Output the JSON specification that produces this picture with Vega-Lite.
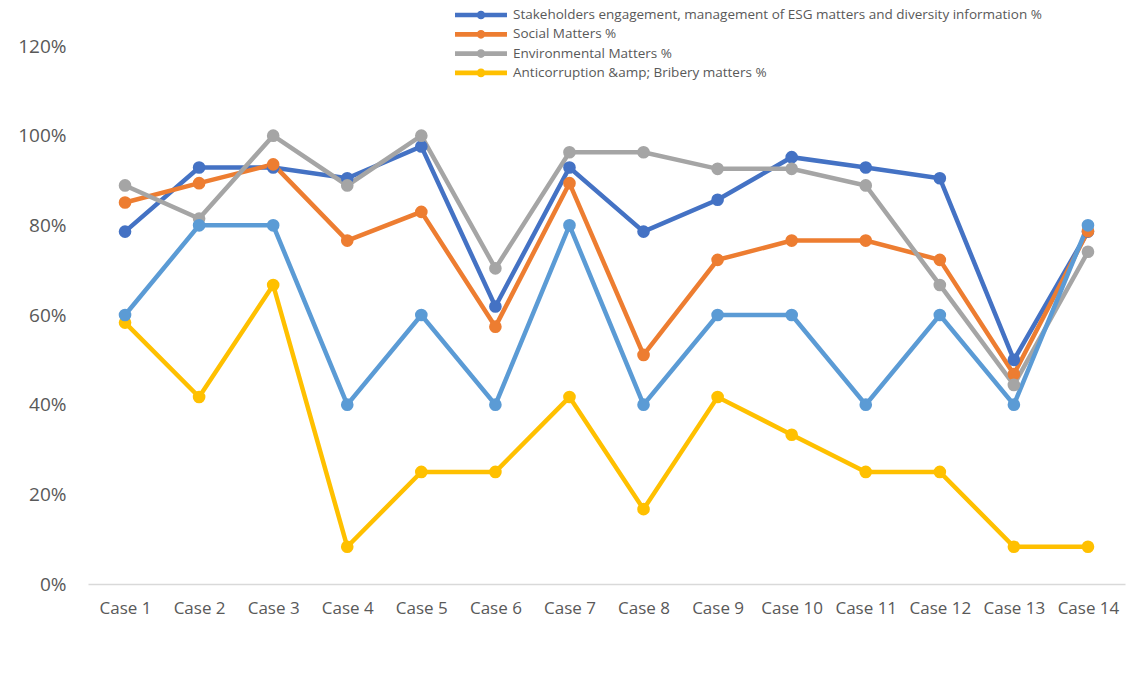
{
  "$schema": "https://vega.github.io/schema/vega-lite/v6.json",
  "autosize": "none",
  "width": 1037,
  "height": 538,
  "padding": {"left": 88, "top": 46, "right": 4, "bottom": 108},
  "background": "white",
  "config": {
    "view": {"stroke": null},
    "font": "Open Sans"
  },
  "data": {
    "values": [
      {"case": "Case 1", "series": "S1", "value": 0.786},
      {"case": "Case 2", "series": "S1", "value": 0.929},
      {"case": "Case 3", "series": "S1", "value": 0.929},
      {"case": "Case 4", "series": "S1", "value": 0.905},
      {"case": "Case 5", "series": "S1", "value": 0.976},
      {"case": "Case 6", "series": "S1", "value": 0.619},
      {"case": "Case 7", "series": "S1", "value": 0.929},
      {"case": "Case 8", "series": "S1", "value": 0.786},
      {"case": "Case 9", "series": "S1", "value": 0.857},
      {"case": "Case 10", "series": "S1", "value": 0.952},
      {"case": "Case 11", "series": "S1", "value": 0.929},
      {"case": "Case 12", "series": "S1", "value": 0.905},
      {"case": "Case 13", "series": "S1", "value": 0.5},
      {"case": "Case 14", "series": "S1", "value": 0.786},
      {"case": "Case 1", "series": "S2", "value": 0.851},
      {"case": "Case 2", "series": "S2", "value": 0.894},
      {"case": "Case 3", "series": "S2", "value": 0.936},
      {"case": "Case 4", "series": "S2", "value": 0.766},
      {"case": "Case 5", "series": "S2", "value": 0.83},
      {"case": "Case 6", "series": "S2", "value": 0.574},
      {"case": "Case 7", "series": "S2", "value": 0.894},
      {"case": "Case 8", "series": "S2", "value": 0.511},
      {"case": "Case 9", "series": "S2", "value": 0.723},
      {"case": "Case 10", "series": "S2", "value": 0.766},
      {"case": "Case 11", "series": "S2", "value": 0.766},
      {"case": "Case 12", "series": "S2", "value": 0.723},
      {"case": "Case 13", "series": "S2", "value": 0.468},
      {"case": "Case 14", "series": "S2", "value": 0.787},
      {"case": "Case 1", "series": "S3", "value": 0.889},
      {"case": "Case 2", "series": "S3", "value": 0.815},
      {"case": "Case 3", "series": "S3", "value": 1.0},
      {"case": "Case 4", "series": "S3", "value": 0.889},
      {"case": "Case 5", "series": "S3", "value": 1.0},
      {"case": "Case 6", "series": "S3", "value": 0.704},
      {"case": "Case 7", "series": "S3", "value": 0.963},
      {"case": "Case 8", "series": "S3", "value": 0.963},
      {"case": "Case 9", "series": "S3", "value": 0.926},
      {"case": "Case 10", "series": "S3", "value": 0.926},
      {"case": "Case 11", "series": "S3", "value": 0.889},
      {"case": "Case 12", "series": "S3", "value": 0.667},
      {"case": "Case 13", "series": "S3", "value": 0.444},
      {"case": "Case 14", "series": "S3", "value": 0.741},
      {"case": "Case 1", "series": "S4", "value": 0.583},
      {"case": "Case 2", "series": "S4", "value": 0.417},
      {"case": "Case 3", "series": "S4", "value": 0.667},
      {"case": "Case 4", "series": "S4", "value": 0.083},
      {"case": "Case 5", "series": "S4", "value": 0.25},
      {"case": "Case 6", "series": "S4", "value": 0.25},
      {"case": "Case 7", "series": "S4", "value": 0.417},
      {"case": "Case 8", "series": "S4", "value": 0.167},
      {"case": "Case 9", "series": "S4", "value": 0.417},
      {"case": "Case 10", "series": "S4", "value": 0.333},
      {"case": "Case 11", "series": "S4", "value": 0.25},
      {"case": "Case 12", "series": "S4", "value": 0.25},
      {"case": "Case 13", "series": "S4", "value": 0.083},
      {"case": "Case 14", "series": "S4", "value": 0.083},
      {"case": "Case 1", "series": "S5", "value": 0.6},
      {"case": "Case 2", "series": "S5", "value": 0.8},
      {"case": "Case 3", "series": "S5", "value": 0.8},
      {"case": "Case 4", "series": "S5", "value": 0.4},
      {"case": "Case 5", "series": "S5", "value": 0.6},
      {"case": "Case 6", "series": "S5", "value": 0.4},
      {"case": "Case 7", "series": "S5", "value": 0.8},
      {"case": "Case 8", "series": "S5", "value": 0.4},
      {"case": "Case 9", "series": "S5", "value": 0.6},
      {"case": "Case 10", "series": "S5", "value": 0.6},
      {"case": "Case 11", "series": "S5", "value": 0.4},
      {"case": "Case 12", "series": "S5", "value": 0.6},
      {"case": "Case 13", "series": "S5", "value": 0.4},
      {"case": "Case 14", "series": "S5", "value": 0.8}
    ]
  },
  "mark": {"type": "line", "strokeWidth": 4.5, "point": {"filled": true, "size": 160, "opacity": 1}},
  "encoding": {
    "x": {
      "field": "case",
      "type": "nominal",
      "sort": ["Case 1","Case 2","Case 3","Case 4","Case 5","Case 6","Case 7","Case 8","Case 9","Case 10","Case 11","Case 12","Case 13","Case 14"],
      "scale": {"type": "point", "padding": 0.5},
      "axis": {
        "title": null,
        "labelAngle": 0,
        "ticks": false,
        "grid": false,
        "domainColor": "#D9D9D9",
        "domainWidth": 1.5,
        "labelColor": "#595959",
        "labelFontSize": 17,
        "labelPadding": 16
      }
    },
    "y": {
      "field": "value",
      "type": "quantitative",
      "scale": {"domain": [0, 1.2], "nice": false},
      "axis": {
        "title": null,
        "values": [0, 0.2, 0.4, 0.6, 0.8, 1.0, 1.2],
        "format": ".0%",
        "domain": false,
        "ticks": false,
        "grid": false,
        "labelColor": "#595959",
        "labelFontSize": 19,
        "labelPadding": 22
      }
    },
    "color": {
      "field": "series",
      "type": "nominal",
      "scale": {
        "domain": ["S1", "S2", "S3", "S4", "S5"],
        "range": ["#4472C4", "#ED7D31", "#A5A5A5", "#FFC000", "#5B9BD5"]
      },
      "legend": {
        "title": null,
        "values": ["S1", "S2", "S3", "S4"],
        "labelExpr": "datum.value == 'S1' ? 'Stakeholders engagement, management of ESG matters and diversity information %' : datum.value == 'S2' ? 'Social Matters %' : datum.value == 'S3' ? '\u00a0Environmental Matters %' : 'Anticorruption &amp; Bribery matters %'",
        "orient": "none",
        "legendX": 384,
        "legendY": -40,
        "direction": "vertical",
        "labelFontSize": 13.5,
        "labelColor": "#595959",
        "labelOffset": 23,
        "rowPadding": 3.3,
        "symbolType": "M-3,-0.27L3,-0.27L3,0.27L-3,0.27Z M-0.5,0 A0.5,0.5 0 1,1 0.5,0 A0.5,0.5 0 1,1 -0.5,0Z",
        "symbolSize": 300,
        "symbolStrokeWidth": 0,
        "labelLimit": 0,
        "encode": {
          "symbols": {"update": {"fill": {"scale": "color", "field": "value"}, "strokeWidth": {"value": 0}, "opacity": {"value": 1}}}
        }
      }
    }
  }
}
